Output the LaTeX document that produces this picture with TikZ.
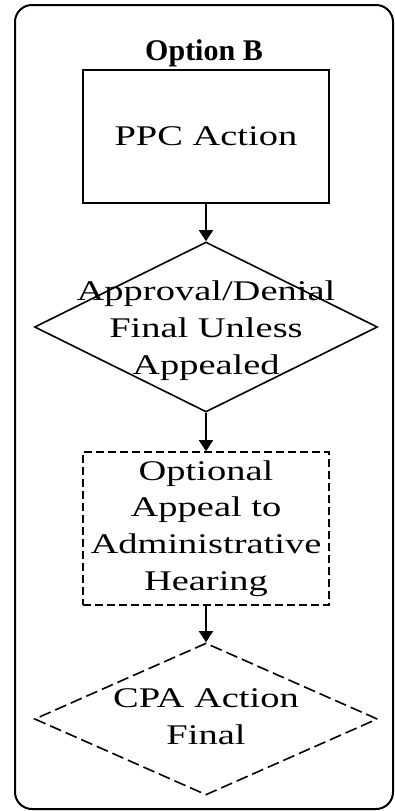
\documentclass[tikz,border=0pt]{standalone}
\usepackage{fontspec}
\setmainfont{Liberation Serif}
\newfontfamily\stretchfont{Liberation Serif}[FakeStretch=1.35]
\usetikzlibrary{shapes.geometric,arrows.meta}
\begin{document}
\begin{tikzpicture}[x=1pt,y=-1pt,
  txt/.style={font=\stretchfont\fontsize{28.5}{36.7}\selectfont, align=center},
  solidbox/.style={draw, line width=1.8pt, rectangle, minimum width=246pt, minimum height=133pt, inner sep=0pt, txt},
  dashbox/.style={draw, line width=1.6pt, dash pattern=on 8pt off 4pt, rectangle, minimum width=246pt, minimum height=153pt, inner sep=0pt, txt},
  diam/.style={draw, diamond, inner sep=0pt, line width=1.6pt, minimum width=343pt},
  arr/.style={line width=1.8pt, -{Triangle[length=11pt,width=14pt]}},
]
\useasboundingbox (0,0) rectangle (395,811);
\node[draw, rounded corners=17pt, line width=2pt, minimum width=378pt, minimum height=804pt] (frame) at (204,407) {};
\node[font=\bfseries\fontsize{30}{36}\selectfont, anchor=base] (title) at (204,60) {Option B};
\node[solidbox] (ppc) at (206,136.5) {PPC Action};
\node[diam, minimum height=170pt, label={[txt,yshift=-3.6pt]center:Approval/Denial\\Final Unless\\Appealed}] (d1) at (206,327) {};
\node[dashbox] (opt) at (206,528.5) {Optional\\Appeal to\\Administrative\\Hearing};
\node[diam, dash pattern=on 12pt off 5pt, minimum height=152pt, label={[txt,yshift=2pt]center:CPA Action\\Final}] (d2) at (206,719) {};
\draw[arr] (ppc.south) -- (d1.north);
\draw[arr] (d1.south) -- (opt.north);
\draw[arr] (opt.south) -- (d2.north);
\end{tikzpicture}
\end{document}
